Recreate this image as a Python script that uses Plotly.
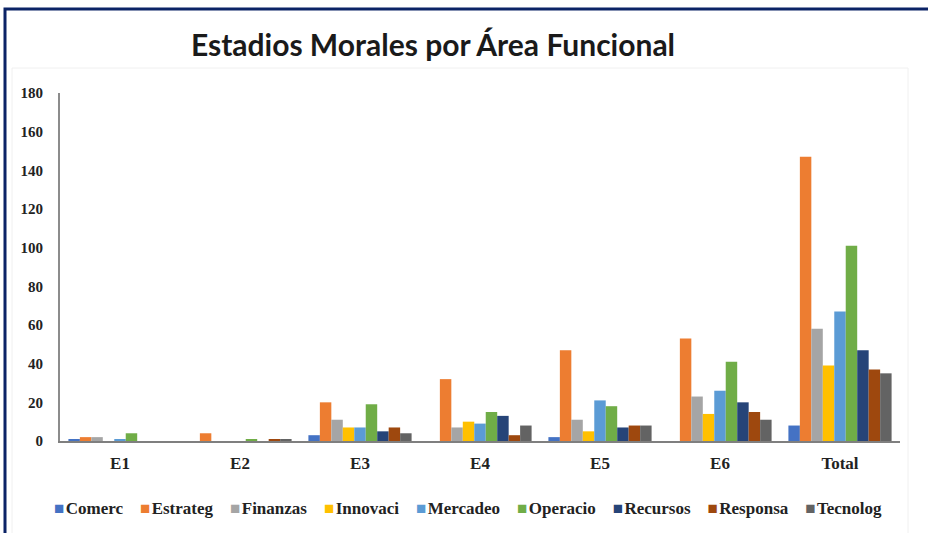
import plotly.graph_objects as go

# Categories (moral stages) and functional areas
stages = ["E1", "E2", "E3", "E4", "E5", "E6", "Total"]
areas = ["Comerc", "Estrateg", "Finanzas", "Innovaci", "Mercadeo",
         "Operacio", "Recursos", "Responsa", "Tecnolog"]

# Counts per area, one value per stage
comerc   = [1, 0, 3, 0, 2, 0, 8]
estrateg = [2, 4, 20, 32, 47, 53, 147]
finanzas = [2, 0, 11, 7, 11, 23, 58]
innovaci = [0, 0, 7, 10, 5, 14, 39]
mercadeo = [1, 0, 7, 9, 21, 26, 67]
operacio = [4, 1, 19, 15, 18, 41, 101]
recursos = [0, 0, 5, 13, 7, 20, 47]
responsa = [0, 1, 7, 3, 8, 15, 37]
tecnolog = [0, 1, 4, 8, 8, 11, 35]

series = [comerc, estrateg, finanzas, innovaci, mercadeo,
          operacio, recursos, responsa, tecnolog]
colors = ["#4472C4", "#ED7D31", "#A5A5A5", "#FFC000", "#5B9BD5",
          "#70AD47", "#264478", "#9E480E", "#636363"]

W, H = 928, 533
ML, MR, MT, MB = 60, 28, 93, 92
PW, PH = W - ML - MR, H - MT - MB


def px_x(x):
    return (x - ML) / PW


def px_y(y):
    return (H - MB - y) / PH


fig = go.Figure()
for name, vals, col in zip(areas, series, colors):
    fig.add_trace(go.Bar(name=name, x=stages, y=vals, marker_color=col,
                         marker_line_width=0))

serif = "Liberation Serif"

# Compact one-line legend: coloured square glyph followed by the area name
legend_text = "&nbsp;&nbsp;&nbsp;&nbsp;".join(
    f"<span style='color:{c}'>■</span>&#8202;{n}" for n, c in zip(areas, colors)
)

fig.update_layout(
    width=W, height=H, autosize=False,
    margin=dict(l=ML, r=MR, t=MT, b=MB),
    paper_bgcolor="white", plot_bgcolor="white",
    showlegend=False,
    barmode="group", bargap=0.14, bargroupgap=0,
    title=dict(text="Estadios Morales por Área Funcional",
               font=dict(family="Lato", size=30, color="#1a1a1a", weight="bold"),
               x=px_x(433), xref="paper", xanchor="center",
               y=1 - 45 / H, yref="container", yanchor="middle"),
    xaxis=dict(showline=True, linecolor="#7f7f7f", linewidth=2,
               showgrid=False, ticks="", ticklabelstandoff=6,
               tickfont=dict(family=serif, size=17, color="#222", weight="bold")),
    yaxis=dict(range=[0, 180], dtick=20, showline=True, linecolor="#8c8c8c",
               linewidth=2, showgrid=False, zeroline=False, ticks="",
               ticklabelstandoff=12,
               tickfont=dict(family=serif, size=15, color="#222", weight="bold")),
    annotations=[
        dict(text=legend_text, xref="paper", yref="paper",
             x=px_x(468), y=px_y(508), xanchor="center", yanchor="middle",
             showarrow=False,
             font=dict(family=serif, size=17, color="#222", weight="bold")),
    ],
    shapes=[
        # faint border of the inner chart area
        dict(type="rect", xref="paper", yref="paper",
             x0=px_x(12), x1=px_x(908), y0=px_y(545), y1=px_y(68),
             line=dict(color="#f0f0f0", width=1), layer="below"),
        # dark frame around the figure
        dict(type="rect", xref="paper", yref="paper",
             x0=px_x(5), x1=px_x(940), y0=px_y(550), y1=px_y(9),
             line=dict(color="#0b2366", width=3)),
    ],
)

fig.write_html("out.html")
